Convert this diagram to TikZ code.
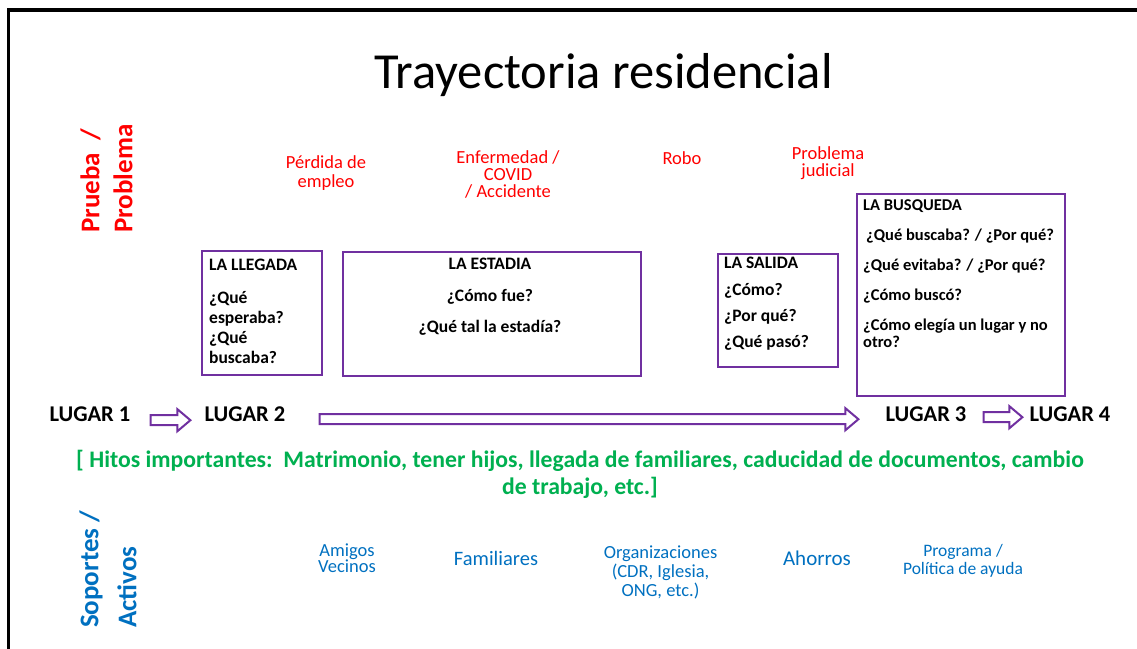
\documentclass[tikz,border=0pt]{standalone}
\usepackage{fontspec}
\setmainfont{Carlito}
\usetikzlibrary{positioning,calc}
\definecolor{rojopr}{RGB}{255, 0, 0}
\definecolor{azulpr}{RGB}{0, 112, 192}
\definecolor{verdepr}{RGB}{0, 176, 80}
\definecolor{moradopr}{RGB}{112, 48, 160}
\newcommand{\tam}[2]{\fontsize{#1}{#2}\selectfont}

\tikzset{
  caja/.style={draw=moradopr, line width=2.3pt, inner sep=0pt, anchor=north west},
  pregunta/.style={inner sep=0pt, align=left, font=\bfseries\tam{17.5}{20}},
  problema/.style={inner sep=0pt, text=rojopr, align=center, font=\tam{18.5}{19}},
  soporte/.style={inner sep=0pt, text=azulpr, align=center, font=\tam{18.5}{16.5}},
  lugar/.style={inner sep=0pt, anchor=base, font=\bfseries\tam{22.5}{26}},
  eje/.style={inner sep=0pt, rotate=90, anchor=west, align=left, font=\bfseries\tam{27}{33}},
  flecha/.style={draw=moradopr, line width=2pt, fill=white, line join=miter,
    to path={let \p1=(\tikztostart), \p2=(\tikztotarget) in
      (\x1,\y1+5pt) -- (\x2-13pt,\y1+5pt) -- (\x2-13pt,\y1+11pt) -- (\x2,\y1)
      -- (\x2-13pt,\y1-11pt) -- (\x2-13pt,\y1-5pt) -- (\x1,\y1-5pt) -- cycle}}
}

\begin{document}
\begin{tikzpicture}[x=1pt, y=-1pt]
            \useasboundingbox (0,0) rectangle (1137,648);
            % Marco
            \draw[line width=3.5pt] (8.5,660) -- (8.5,10) -- (1150,10);
            \node[inner sep=0pt, anchor=base, font=\tam{50.5}{55}] (titulo) at (603.5,88) {Trayectoria residencial};

            % Ejes
            \node[eje, text=rojopr] (prueba) at (106.5,233) {Prueba~~/\\Problema};
            \node[eje, text=azulpr] (soportes) at (108,628) {Soportes /\\[5pt]Activos};

            % Pruebas
            \node[problema] (perdida) at (326,173) {Pérdida de\\empleo};
            \node[problema, font=\tam{18.5}{17}] (enfermedad) at (508,174) {Enfermedad /\\COVID\\/ Accidente};
            \node[problema] (robo) at (682,158) {Robo};
            \node[problema, font=\tam{18.5}{17}] (judicial) at (828,163) {Problema\\judicial};

            % Cajas
            \node[caja, minimum width=120pt, minimum height=124pt] (llegada) at (201,250) {};
            \node[caja, minimum width=298pt, minimum height=124pt] (estadia) at (342,251) {};
            \node[caja, minimum width=120pt, minimum height=113pt] (salida) at (717,253) {};
            \node[caja, minimum width=208pt, minimum height=202pt] (busqueda) at (856,193) {};

            \node[pregunta, anchor=west] (llegadat) at (209,265) {LA LLEGADA};
            \node[pregunta, anchor=west] (llegadap) at (209,328) {¿Qué\\esperaba?\\¿Qué\\buscaba?};
            \node[pregunta, align=center, font=\bfseries\tam{17.5}{31.5}] (estadiap) at (490,297) {LA ESTADIA\\¿Cómo fue?\\¿Qué tal la estadía?};
            \node[pregunta, anchor=west, font=\bfseries\tam{17.5}{26.3}] (salidap) at (724,304) {LA SALIDA\\¿Cómo?\\¿Por qué?\\¿Qué pasó?};
            \node[pregunta, anchor=west, font=\bfseries\tam{16.5}{17}] (busquedap) at (863,274)
              {LA BUSQUEDA\\[13pt]\hspace{3pt}¿Qué buscaba? / ¿Por qué?\\[13pt]¿Qué evitaba? / ¿Por qué?\\[13pt]¿Cómo buscó?\\[13pt]¿Cómo elegía un lugar y no\\otro?};

            % Lugares
            \node[lugar] (lugar1) at (90,421.5) {LUGAR 1};
            \node[lugar] (lugar2) at (245,421.5) {LUGAR 2};
            \node[lugar] (lugar3) at (926,421.5) {LUGAR 3};
            \node[lugar] (lugar4) at (1070,421.5) {LUGAR 4};

            % Flechas
            \draw[flecha] ([xshift=20pt, yshift=-6pt]lugar1.east) to ([xshift=-14pt, yshift=-6pt]lugar2.west);
            \draw[flecha] ([xshift=34pt, yshift=-5pt]lugar2.east) to ([xshift=-27pt, yshift=-5pt]lugar3.west);
            \draw[flecha] ([xshift=17pt, yshift=-3pt]lugar3.east) to ([xshift=-7pt, yshift=-3pt]lugar4.west);

            % Hitos
            \node[inner sep=0pt, text=verdepr, align=center, font=\bfseries\tam{23.7}{27}] (hitos) at (580,474)
              {[ Hitos importantes:~~Matrimonio, tener hijos, llegada de familiares, caducidad de documentos, cambio\\de trabajo, etc.]};

            % Soportes
            \node[soporte] (amigos) at (347,558) {Amigos\\Vecinos};
            \node[soporte, font=\tam{20.5}{20}] (familiares) at (496,558) {Familiares};
            \node[soporte, font=\tam{18.5}{19}] (organiz) at (660.5,572) {Organizaciones\\(CDR, Iglesia,\\ONG, etc.)};
            \node[soporte, font=\tam{21}{20}] (ahorros) at (817,558) {Ahorros};
            \node[soporte, font=\tam{17.5}{18}] (programa) at (963,561) {Programa /\\Política de ayuda};
        \end{tikzpicture}
\end{document}
